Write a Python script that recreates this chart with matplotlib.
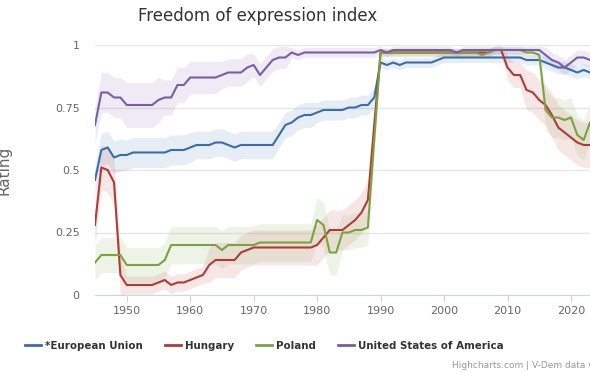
import numpy as np
import matplotlib
matplotlib.use("Agg")
import matplotlib.pyplot as plt
from matplotlib.lines import Line2D

years = list(range(1945, 2024))

# V-Dem freedom of expression index, point estimate
eu = ([0.46, 0.58, 0.59, 0.55, 0.56, 0.56] + [0.57] * 6 + [0.58] * 3
      + [0.59, 0.60, 0.60, 0.60, 0.61, 0.61, 0.60, 0.59] + [0.60] * 6
      + [0.64, 0.68, 0.69, 0.71, 0.72, 0.72, 0.73, 0.74, 0.74, 0.74, 0.74,
         0.75, 0.75, 0.76, 0.76, 0.79, 0.93, 0.92, 0.93, 0.92] + [0.93] * 5
      + [0.94] + [0.95] * 13 + [0.94] * 3
      + [0.93, 0.92, 0.91, 0.91, 0.90, 0.89, 0.90, 0.89])
hungary = ([0.28, 0.51, 0.50, 0.45, 0.08] + [0.04] * 5
           + [0.05, 0.06, 0.04, 0.05, 0.05, 0.06, 0.07, 0.08, 0.12]
           + [0.14] * 4 + [0.17, 0.18] + [0.19] * 10
           + [0.20, 0.23, 0.26, 0.26, 0.26, 0.28, 0.30, 0.33, 0.38, 0.68]
           + [0.97] * 18 + [0.98, 0.98]
           + [0.91, 0.88, 0.88, 0.82, 0.81, 0.78, 0.76, 0.72, 0.67, 0.65,
              0.63, 0.61, 0.60, 0.60])
poland = ([0.13, 0.16, 0.16, 0.16, 0.16] + [0.12] * 6 + [0.14] + [0.20] * 8
          + [0.18] + [0.20] * 5 + [0.21] * 9
          + [0.30, 0.28, 0.17, 0.17, 0.25, 0.25, 0.26, 0.26, 0.27, 0.62]
          + [0.97] * 16 + [0.96, 0.97] + [0.98] * 5 + [0.97, 0.97, 0.96]
          + [0.74, 0.71, 0.71, 0.70, 0.71, 0.64, 0.62, 0.69])
usa = ([0.68, 0.81, 0.81, 0.79, 0.79] + [0.76] * 5
       + [0.78, 0.79, 0.79, 0.84, 0.84] + [0.87] * 5
       + [0.88, 0.89, 0.89, 0.89, 0.91, 0.92, 0.88, 0.91, 0.94, 0.95, 0.95,
          0.97, 0.96] + [0.97] * 12 + [0.98, 0.97] + [0.98] * 10 + [0.97]
       + [0.98] * 13 + [0.96, 0.94, 0.93, 0.91, 0.93, 0.95, 0.95, 0.94])

# half-width of the confidence band
eu_hw = ([0.06] + [0.065] * 4 + [0.06] * 11 + [0.055] * 13 + [0.05] * 6
         + [0.04] * 10 + [0.02] * 26 + [0.025] * 8)
hungary_hw = ([0.08] + [0.09] * 3 + [0.08] + [0.035] * 13 + [0.07] * 17
              + [0.08] * 9 + [0.06] + [0.015] * 20 + [0.05] * 3 + [0.08] * 4
              + [0.09] * 7)
poland_hw = ([0.07] * 12 + [0.075] * 23 + [0.09] * 4 + [0.07] * 6
             + [0.015] * 26 + [0.08] * 8)
usa_hw = ([0.07] + [0.08] * 4 + [0.09] * 6 + [0.07] * 4 + [0.065] * 5
          + [0.055] * 5 + [0.045] * 6 + [0.02] * 14 + [0.015] * 26 + [0.03] * 8)

names = ["*European Union", "Hungary", "Poland", "United States of America"]
colors = ["#3a6dad", "#b23a36", "#7ba23f", "#7b5ca5"]
series = [eu, hungary, poland, usa]
bands = [eu_hw, hungary_hw, poland_hw, usa_hw]

W, H = 590, 372
fig = plt.figure(figsize=(W / 100, H / 100), dpi=100)
ax = fig.add_axes([95 / W, 1 - 295 / H, (590 - 95) / W, 250 / H])

x = np.array(years)
for vals, hw, c in zip(series, bands, colors):
    v = np.array(vals)
    w = np.array(hw)
    ax.fill_between(x, v - w, v + w, color=c, alpha=0.12, lw=0)
for vals, c in zip(series, colors):
    ax.plot(x, vals, color=c, lw=1.5, solid_joinstyle="round")

ax.set_xlim(1945, 2023)
ax.set_ylim(0, 1)
ax.set_yticks([0, 0.25, 0.5, 0.75, 1])
ax.set_yticklabels(["0", "0.25", "0.5", "0.75", "1"])
ax.set_xticks(range(1950, 2021, 10))
ax.grid(axis="y", color="#e6e6e6", lw=1)
ax.set_axisbelow(True)
for s in ["top", "right", "left"]:
    ax.spines[s].set_visible(False)
ax.spines["bottom"].set_color("#ccd6eb")
ax.tick_params(axis="y", length=0, labelsize=8, labelcolor="#666666", pad=11)
ax.tick_params(axis="x", length=5, color="#ccd6eb", labelsize=8,
               labelcolor="#666666", pad=3)

fig.text(258 / W, 1 - 16 / H, "Freedom of expression index", ha="center",
         va="center", fontsize=12, color="#333333")
fig.text(4 / W, 1 - 170 / H, "Rating", rotation=90, ha="center", va="center",
         fontsize=11, color="#666666")

handles = [Line2D([], [], color=c, lw=2) for c in colors]
fig.legend(handles, names, loc="center left", bbox_to_anchor=(16 / W, 1 - 346 / H),
           ncol=4, frameon=False, handlelength=1.5, handletextpad=0.4,
           columnspacing=2.2, prop={"weight": "bold", "size": 7.4},
           labelcolor="#333333")
fig.text(452 / W, 1 - 365 / H, "Highcharts.com | V-Dem data version 14",
         ha="left", va="center", fontsize=6.5, color="#999999")

fig.savefig("out.png", dpi=100)
